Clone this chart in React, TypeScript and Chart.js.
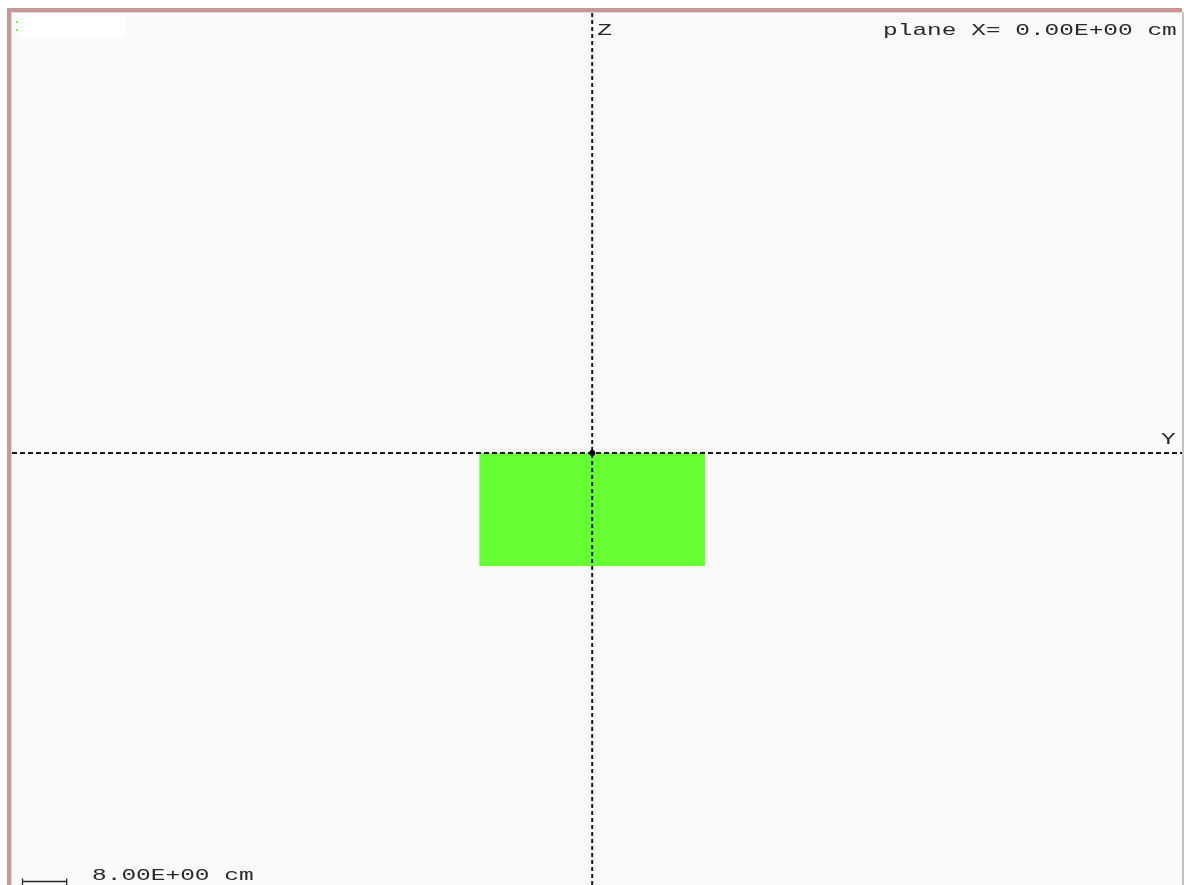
import React, { useEffect, useRef } from "react";
import { Chart, registerables } from "chart.js";

Chart.register(...registerables);

// Plot window (cm) in the plane X = 0: horizontal axis is Y, vertical axis is Z
const Y_RANGE = [-102.7, 104.4];
const Z_RANGE = [-76.46, 78.05];

// Material region (cm)
const REGION_Y = [-20, 20];
const REGION_Z_BOTTOM = [-20, -20];
const REGION_Z_TOP = 0;

// Origin marker
const ORIGIN = [{ x: 0, y: 0 }];

// Text
const PLANE_LABEL = "plane X= 0.00E+00 cm";
const SCALE_CM = 8;
const SCALE_LABEL = "8.00E+00 cm";
const AXIS_LABELS = ["Y", "Z"];

const GREEN = "#66ff33";
const INK = "#2a2a2a";
const FONT = "17px 'Liberation Mono', 'DejaVu Sans Mono', monospace";
const STRETCH = 1.44;

function stretchedText(ctx: CanvasRenderingContext2D, text: string, x: number, y: number) {
  ctx.save();
  ctx.translate(x, y);
  ctx.scale(STRETCH, 1);
  ctx.font = FONT;
  ctx.fillStyle = INK;
  ctx.textBaseline = "alphabetic";
  ctx.textAlign = "left";
  ctx.fillText(text, 0, 0);
  ctx.restore();
}

const framePlugin = {
  id: "frame",
  beforeDraw(chart: any) {
    const ctx: CanvasRenderingContext2D = chart.ctx;
    const W = chart.width;
    const H = chart.height;
    ctx.save();
    ctx.fillStyle = "#ffffff";
    ctx.fillRect(0, 0, W, H);
    ctx.fillStyle = "#fafafa";
    ctx.fillRect(11, 12, W - 13, H - 12);
    // pink outer frame
    ctx.fillStyle = "#c99595";
    ctx.fillRect(7, 8, 4, H - 8);
    ctx.fillRect(7, 8, W - 9, 4);
    // light inner edge
    ctx.fillStyle = "#dcdcdc";
    ctx.fillRect(11, 12, 1, H - 12);
    ctx.fillRect(11, 12, W - 13, 1);
    // right edge
    ctx.fillStyle = "#c4c4c4";
    ctx.fillRect(W - 2, 12, 2, H - 12);
    // top-left white box with small markers
    ctx.fillStyle = "#ffffff";
    ctx.fillRect(19, 15, 106, 23);
    ctx.fillStyle = "#88ee66";
    ctx.fillRect(16, 21, 2, 2);
    ctx.fillRect(16, 29, 2, 2);
    ctx.restore();
  },
  afterDraw(chart: any) {
    const ctx: CanvasRenderingContext2D = chart.ctx;
    const xs = chart.scales.x;
    const ys = chart.scales.y;
    const ox = xs.getPixelForValue(0);
    const oy = ys.getPixelForValue(0);
    stretchedText(ctx, PLANE_LABEL, 883, 35);
    stretchedText(ctx, AXIS_LABELS[1], ox + 5, 35);
    stretchedText(ctx, AXIS_LABELS[0], 1161, oy - 9);
    // scale bar
    const x0 = 22;
    const len = xs.getPixelForValue(SCALE_CM) - xs.getPixelForValue(0);
    const by = 881.5;
    ctx.save();
    ctx.strokeStyle = INK;
    ctx.lineWidth = 1.3;
    ctx.beginPath();
    ctx.moveTo(x0, by);
    ctx.lineTo(x0 + len, by);
    ctx.moveTo(x0 + 0.5, by - 3);
    ctx.lineTo(x0 + 0.5, by + 4);
    ctx.moveTo(x0 + len - 0.5, by - 3);
    ctx.lineTo(x0 + len - 0.5, by + 4);
    ctx.stroke();
    ctx.restore();
    stretchedText(ctx, SCALE_LABEL, 92, 880);
  },
};

export default function App() {
  const ref = useRef<HTMLCanvasElement | null>(null);
  useEffect(() => {
    if (!ref.current) return;
    const chart = new Chart(ref.current, {
      type: "line",
      data: {
        datasets: [
          {
            label: "origin",
            data: ORIGIN,
            showLine: false,
            pointRadius: 3,
            pointBackgroundColor: "#000",
            pointBorderWidth: 0,
            order: 0,
          },
          {
            label: "Y axis",
            data: [
              { x: Y_RANGE[0], y: 0 },
              { x: Y_RANGE[1], y: 0 },
            ],
            borderColor: "#1a1a1a",
            borderWidth: 2,
            borderDash: [5, 3],
            pointRadius: 0,
            fill: false,
            order: 1,
          },
          {
            label: "Z axis",
            data: [
              { x: 0, y: Z_RANGE[0] },
              { x: 0, y: Z_RANGE[1] },
            ],
            borderColor: "#1a1a1a",
            borderWidth: 2,
            borderDash: [4, 3],
            pointRadius: 0,
            fill: false,
            order: 2,
          },
          {
            label: "region",
            data: REGION_Y.map((y, i) => ({ x: y, y: REGION_Z_BOTTOM[i] })),
            borderWidth: 0,
            borderColor: GREEN,
            backgroundColor: GREEN,
            pointRadius: 0,
            fill: { target: { value: REGION_Z_TOP } },
            order: 3,
          },
        ],
      },
      options: {
        animation: false,
        responsive: false,
        parsing: true,
        layout: { autoPadding: false, padding: { left: 12, top: 12, right: 2, bottom: 0 } },
        plugins: { legend: { display: false }, tooltip: { enabled: false }, title: { display: false } },
        scales: {
          x: { type: "linear", min: Y_RANGE[0], max: Y_RANGE[1], display: false },
          y: { type: "linear", min: Z_RANGE[0], max: Z_RANGE[1], display: false },
        },
      },
      plugins: [framePlugin],
    });
    return () => chart.destroy();
  }, []);
  return (
    <div style={{ position: "fixed", left: 0, top: 0, width: 1184, height: 885 }}>
      <canvas ref={ref} width={1184} height={885} style={{ display: "block" }} />
    </div>
  );
}
